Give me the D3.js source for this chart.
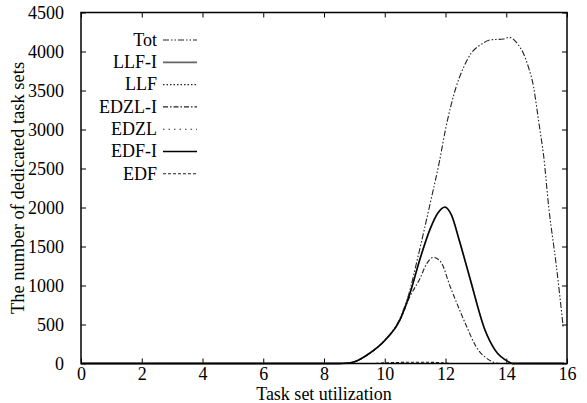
<!DOCTYPE html>
<html>
<head>
<meta charset="utf-8">
<script src="https://cdn.jsdelivr.net/npm/d3@7"></script>
<style>
  body { margin: 0; background: #fff; }
  svg text { font-family: "Liberation Serif", "Times New Roman", serif; fill: #000; }
</style>
</head>
<body>
<svg id="chart" width="587" height="403"></svg>
<script>
// values: [task set utilization, number of dedicated task sets]
const totData = [[0,0],[8.5,0],[8.8,8],[9,25],[9.5,135],[10,300],[10.5,580],[10.8,900],[11.1,1380],
  [11.5,2060],[11.8,2590],[12.0,3000],[12.35,3545],[12.6,3800],[12.85,3980],[13.15,4085],[13.5,4150],
  [13.9,4160],[14.1,4182],[14.4,4083],[14.56,3980],[14.73,3800],[14.9,3545],[15.0,3290],[15.11,2990],
  [15.22,2700],[15.4,2000],[15.65,1250],[15.88,450]];
const llfIData = [[0,0],[8.5,0],[8.8,6],[9,22],[9.5,130],[10,295],[10.5,560],[10.83,900],[11.16,1340],
  [11.49,1720],[11.75,1930],[11.98,2005],[12.2,1900],[12.45,1583],[12.8,1100],[13.3,429],[13.63,173],
  [14.07,23],[14.2,0],[15.9,0]];
const llfData = [[0,0],[15.9,0]];
const edzlIData = [[0,0],[8.5,0],[8.8,6],[9,22],[9.5,130],[10,295],[10.5,555],[10.83,860],[11.16,1090],
  [11.38,1280],[11.6,1360],[11.85,1300],[12.15,990],[12.45,700],[12.7,470],[13.0,220],[13.36,65],
  [13.8,0],[15.9,0]];
const edzlData = [[0,0],[15.9,0]];
const edfIData = llfIData;
const edfData = [[0,0],[9.6,0],[10,8],[10.5,14],[11,16],[11.5,15],[11.9,8],[12.2,0],[15.9,0]];

const xTicks = [0, 2, 4, 6, 8, 10, 12, 14, 16];
const yTicks = [0, 500, 1000, 1500, 2000, 2500, 3000, 3500, 4000, 4500];

const series = [
  {name: 'Tot',    data: totData,   color: '#222', width: 1.1, dash: '6,2,1.5,2,1.5,2'},
  {name: 'LLF-I',  data: llfIData,  color: '#666', width: 1.8, dash: null},
  {name: 'LLF',    data: llfData,   color: '#222', width: 1.1, dash: '1.5,2'},
  {name: 'EDZL-I', data: edzlIData, color: '#222', width: 1.1, dash: '5,2,1.5,2'},
  {name: 'EDZL',   data: edzlData,  color: '#333', width: 1.1, dash: '1.5,4'},
  {name: 'EDF-I',  data: edfIData,  color: '#000', width: 1.3, dash: null},
  {name: 'EDF',    data: edfData,   color: '#222', width: 1.1, dash: '3,2'}
];

const margin = {top: 12.5, left: 81, right: 20, bottom: 39.5};
const width = 587, height = 403;
const svg = d3.select('#chart');

const x = d3.scaleLinear().domain([0, 16]).range([margin.left, width - margin.right]);
const y = d3.scaleLinear().domain([0, 4500]).range([height - margin.bottom, margin.top]);

const fs = 18;
const serif = '"Liberation Serif", "Times New Roman", serif';

// axes, gnuplot style: ticks point inside, mirrored
svg.append('g').attr('transform', `translate(0,${y(0)})`)
  .call(d3.axisBottom(x).tickValues(xTicks).tickSize(-5).tickSizeOuter(0).tickPadding(4)
    .tickFormat(d3.format('d')))
  .attr('font-family', serif).attr('font-size', fs)
  .call(g => g.select('.domain').remove());
svg.append('g').attr('transform', `translate(0,${y(4500)})`)
  .call(d3.axisTop(x).tickValues(xTicks).tickSize(-5).tickSizeOuter(0).tickFormat(''))
  .call(g => g.select('.domain').remove());
svg.append('g').attr('transform', `translate(${x(0)},0)`)
  .call(d3.axisLeft(y).tickValues(yTicks).tickSize(-5).tickSizeOuter(0).tickPadding(17)
    .tickFormat(d3.format('d')))
  .attr('font-family', serif).attr('font-size', fs)
  .call(g => g.select('.domain').remove());
svg.append('g').attr('transform', `translate(${x(16)},0)`)
  .call(d3.axisRight(y).tickValues(yTicks).tickSize(-5).tickSizeOuter(0).tickFormat(''))
  .call(g => g.select('.domain').remove());

// curves (EDF-I drawn over LLF-I, they share the same values)
const line = d3.line().x(d => x(d[0])).y(d => y(d[1])).curve(d3.curveMonotoneX);
const plot = svg.append('g');
series.forEach(s => {
  plot.append('path')
    .attr('d', line(s.data))
    .attr('fill', 'none')
    .attr('stroke', s.color)
    .attr('stroke-width', s.width)
    .attr('stroke-dasharray', s.dash);
});

// frame
svg.append('rect')
  .attr('x', x(0)).attr('y', y(4500))
  .attr('width', x(16) - x(0)).attr('height', y(0) - y(4500))
  .attr('fill', 'none').attr('stroke', '#000').attr('stroke-width', 1.5);

// axis titles
svg.append('text')
  .attr('x', (x(0) + x(16)) / 2).attr('y', 400)
  .attr('text-anchor', 'middle').attr('font-size', fs)
  .text('Task set utilization');
svg.append('text')
  .attr('transform', `translate(23.5,${(y(0) + y(4500)) / 2}) rotate(-90)`)
  .attr('text-anchor', 'middle').attr('font-size', 18.5)
  .text('The number of dedicated task sets');

// legend
const legend = svg.append('g');
series.forEach((s, i) => {
  const ly = 40 + i * 22.3;
  legend.append('text')
    .attr('x', 157).attr('y', ly).attr('dy', '0.32em')
    .attr('text-anchor', 'end').attr('font-size', 18)
    .text(s.name);
  legend.append('line')
    .attr('x1', 163).attr('x2', 197).attr('y1', ly).attr('y2', ly)
    .attr('stroke', s.color).attr('stroke-width', s.width)
    .attr('stroke-dasharray', s.dash);
});
</script>
</body>
</html>
